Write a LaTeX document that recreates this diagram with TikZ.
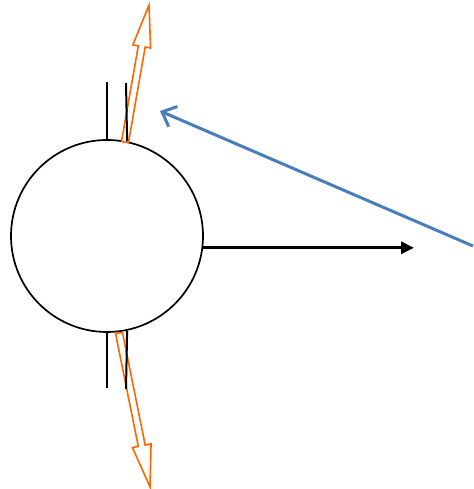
\documentclass[tikz,border=0pt]{standalone}
\usetikzlibrary{arrows.meta,positioning,calc}
\definecolor{flowline}{HTML}{FF6600}
\definecolor{forceline}{HTML}{4A7EBB}

\begin{document}
\begin{tikzpicture}[
    x=1pt, y=1pt,
    hub/.style={circle, draw, line width=1.7pt, minimum size=192pt, inner sep=0pt},
    stem/.style={line width=2pt},
    hollow/.style={draw=flowline, line width=1.6pt, fill=white, line join=miter},
    push/.style={line width=3pt, -{Triangle[length=13pt,width=12pt]}},
    pull/.style={draw=forceline, line width=3pt, -{Straight Barb[length=12pt,width=22pt,line width=3pt]}}
]
\useasboundingbox (0,0) rectangle (473,489);

% Wheel
\node[hub] (wheel) at (107,253) {};

% Hollow flow arrows
\begin{scope}[shift={(125,347)}, rotate=80.06]
  \draw[hollow] (0,-3.5) -- (97,-3.5) -- (97,-9) -- (139,0) -- (97,9) -- (97,3.5) -- (0,3.5) -- cycle;
\end{scope}
\begin{scope}[shift={(119,156)}, rotate=-78.6]
  \draw[hollow] (0,-3.5) -- (115,-3.5) -- (115,-9.5) -- (157,0) -- (115,9.5) -- (115,3.5) -- (0,3.5) -- cycle;
\end{scope}

% Stems above and below
\coordinate (topA) at (107,407);
\coordinate (topB) at (126,406);
\coordinate (botA) at (107,101);
\coordinate (botB) at (126,100);
\draw[stem] (wheel.north) -- (topA);
\draw[stem] (wheel.78.6) -- (topB);
\draw[stem] (wheel.south) -- (botA);
\draw[stem] (wheel.-78.6) -- (botB);

% Output arrow
\coordinate (outTip) at (414,240);
\draw[push] (wheel.-7.8) -- (wheel.-7.8 -| outTip);

% Incoming arrow
\coordinate (pullFrom) at (473,243);
\coordinate (pullTo) at (160,378);
\draw[pull] (pullFrom) -- (pullTo);

\end{tikzpicture}
\end{document}
